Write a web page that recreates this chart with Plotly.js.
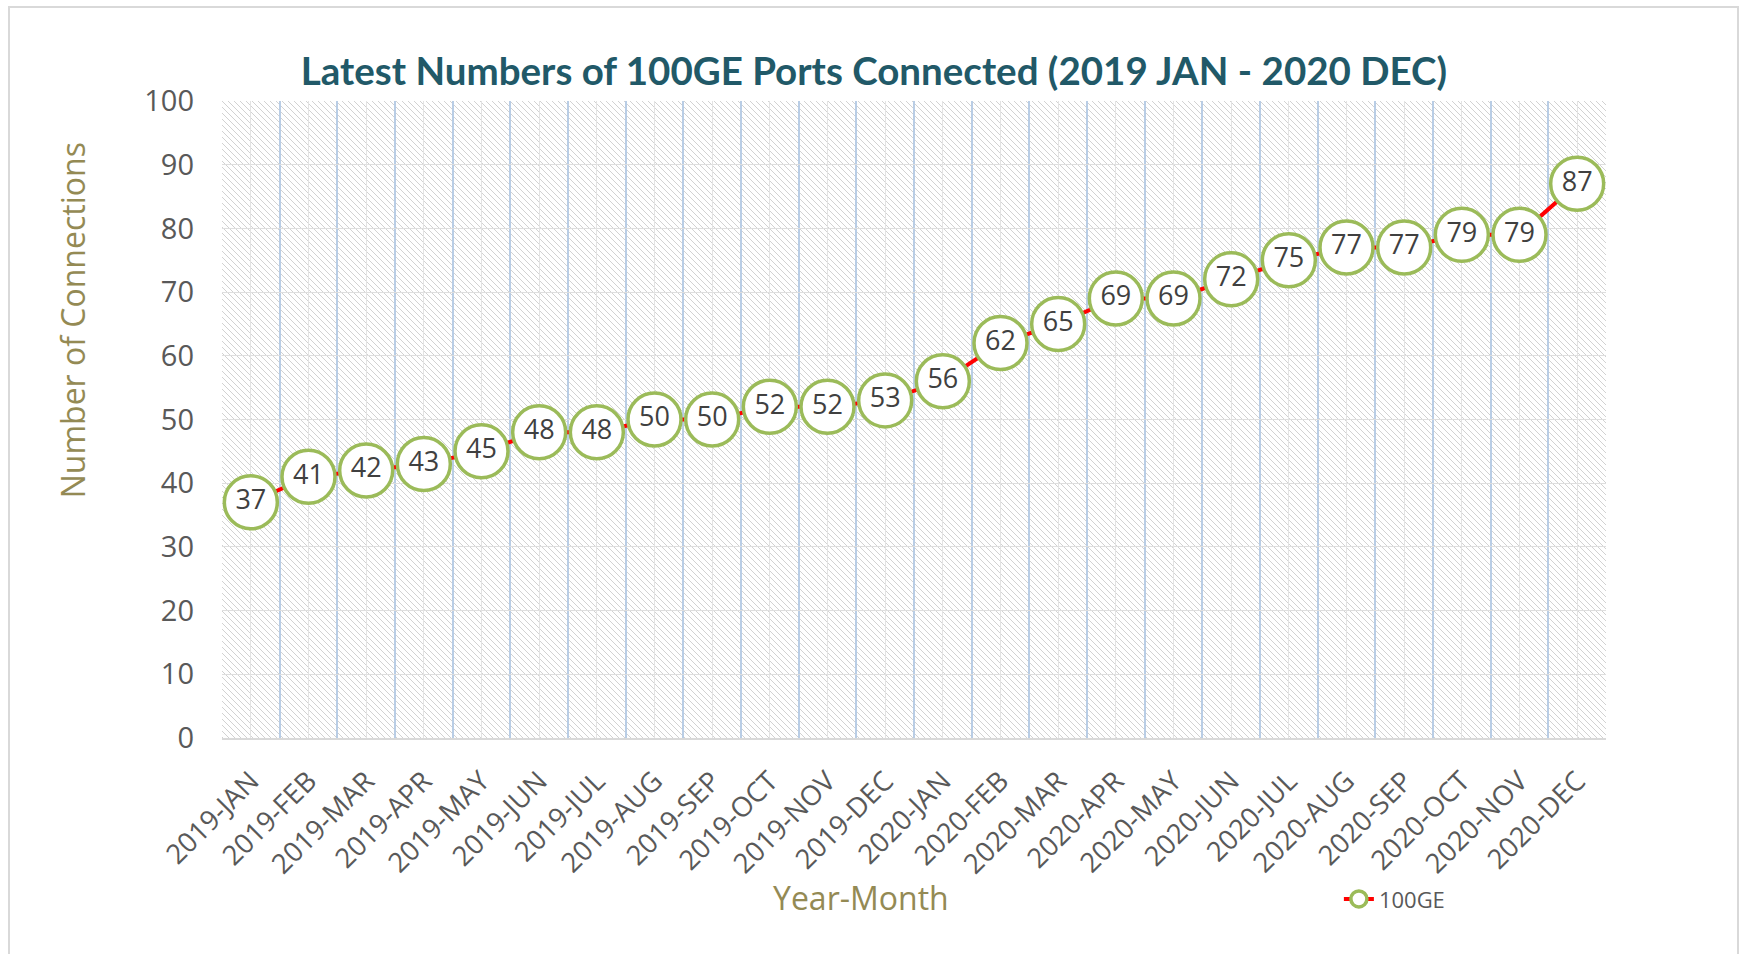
<!DOCTYPE html>
<html>
<head>
<meta charset="utf-8">
<script src="https://cdn.plot.ly/plotly-3.0.1.min.js"></script>
<style>
html,body{margin:0;padding:0;background:#fff;}
#chart{position:absolute;left:0;top:0;width:1741px;height:954px;}
#frame{position:absolute;left:8px;top:6px;width:1727px;height:980px;border:2px solid #d9d9d9;pointer-events:none;}
</style>
</head>
<body>
<div id="chart"></div>
<div id="frame"></div>
<script>
var months = ["2019-JAN","2019-FEB","2019-MAR","2019-APR","2019-MAY","2019-JUN","2019-JUL","2019-AUG","2019-SEP","2019-OCT","2019-NOV","2019-DEC",
              "2020-JAN","2020-FEB","2020-MAR","2020-APR","2020-MAY","2020-JUN","2020-JUL","2020-AUG","2020-SEP","2020-OCT","2020-NOV","2020-DEC"];
var ports100GE = [37,41,42,43,45,48,48,50,50,52,52,53,56,62,65,69,69,72,75,77,77,79,79,87];
var seriesName = "100GE";
var yTicks = [0,10,20,30,40,50,60,70,80,90,100];

var hatch = '<svg xmlns="http://www.w3.org/2000/svg" width="1384" height="637" viewBox="0 0 1384 637" preserveAspectRatio="none">' +
  '<defs><pattern id="h" width="6" height="6" patternUnits="userSpaceOnUse">' +
  '<path d="M0,0 L6,6 M-1,5 L1,7 M5,-1 L7,1" stroke="#d2d2d2" stroke-width="1"/></pattern></defs>' +
  '<rect width="1384" height="637" fill="#ffffff"/><rect width="1384" height="637" fill="url(#h)"/></svg>';
var hatchUri = 'data:image/svg+xml;charset=utf-8,' + encodeURIComponent(hatch);

var main = {
  x: months, y: ports100GE, name: seriesName, type: 'scatter', mode: 'lines+markers',
  line: {color: '#ff0000', width: 4},
  marker: {symbol: 'circle', size: 53, color: '#ffffff', line: {color: '#9bbb59', width: 3.5}},
  showlegend: true, hoverinfo: 'x+y'
};
var labels = {
  x: months, y: ports100GE, type: 'scatter', mode: 'text', xaxis: 'x2',
  text: ports100GE.map(String), textposition: 'middle center',
  textfont: {family: 'Open Sans, sans-serif', size: 27, color: '#404040'},
  showlegend: false, hoverinfo: 'skip'
};

var layout = {
  width: 1741, height: 954,
  margin: {l: 222, r: 135, t: 101, b: 216},
  paper_bgcolor: 'rgba(0,0,0,0)', plot_bgcolor: 'rgba(0,0,0,0)',
  font: {family: 'Open Sans, sans-serif', color: '#595959'},
  title: {text: 'Latest Numbers of 100GE Ports Connected (2019 JAN - 2020 DEC)',
          font: {family: 'Lato, sans-serif', size: 38.5, color: '#215968', weight: 'bold'},
          x: 0.502, xref: 'container', xanchor: 'center', y: 0.925, yref: 'container', yanchor: 'middle'},
  xaxis: {type: 'category', categoryarray: months, categoryorder: 'array', range: [-0.5, 23.5],
          tickson: 'boundaries', showgrid: true, gridcolor: '#b9cde5', gridwidth: 1.5,
          ticks: '', tickangle: -45, tickfont: {size: 27.5, color: '#595959'},
          ticklabelstandoff: 14,
          showline: true, linecolor: '#d9d9d9', linewidth: 2, zeroline: false, fixedrange: true},
  xaxis2: {type: 'category', categoryarray: months, categoryorder: 'array', range: [-0.5, 23.5],
           overlaying: 'x', anchor: 'y', showgrid: true, gridcolor: '#e3e3e3', gridwidth: 1,
           showticklabels: false, ticks: '', showline: false, zeroline: false, fixedrange: true},
  yaxis: {range: [0, 100], tickvals: yTicks, showgrid: true, gridcolor: '#dedede', gridwidth: 1,
          ticks: '', tickfont: {size: 29, color: '#595959'}, ticklabelstandoff: 27,
          showline: false, zeroline: false, fixedrange: true},
  images: [{source: hatchUri, xref: 'paper', yref: 'paper', x: 0, y: 1, sizex: 1, sizey: 1,
            xanchor: 'left', yanchor: 'top', sizing: 'stretch', layer: 'below'}],
  annotations: [
    {text: 'Number of Connections', xref: 'paper', yref: 'paper', x: -0.108, y: 0.655,
     textangle: -90, showarrow: false, xanchor: 'center', yanchor: 'middle',
     font: {family: 'Open Sans, sans-serif', size: 32, color: '#948a54'}},
    {text: 'Year-Month', xref: 'paper', yref: 'paper', x: 0.462, y: -0.251,
     showarrow: false, xanchor: 'center', yanchor: 'middle',
     font: {family: 'Open Sans, sans-serif', size: 32, color: '#948a54'}}
  ],
  legend: {x: 0.807, y: -0.253, xanchor: 'left', yanchor: 'middle', orientation: 'h',
           bgcolor: 'rgba(0,0,0,0)', font: {size: 22, color: '#595959'}},
  hovermode: 'closest'
};

Plotly.newPlot('chart', [main, labels], layout, {displayModeBar: false, staticPlot: false});
</script>
</body>
</html>
